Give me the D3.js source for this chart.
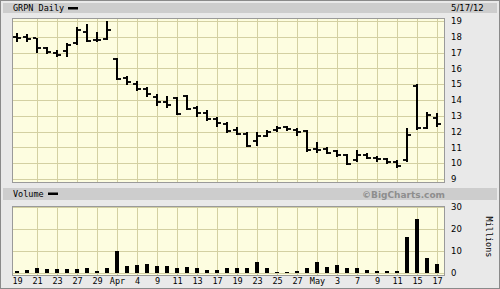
<!DOCTYPE html>
<html>
<head>
<meta charset="utf-8">
<script src="https://cdn.jsdelivr.net/npm/d3@7/dist/d3.min.js"></script>
<style>
  html, body { margin: 0; padding: 0; background: #fff; }
  svg { display: block; }
  .mono { font-family: "DejaVu Sans Mono", monospace; font-size: 8.5px; fill: #000; }
  .num { font-family: "DejaVu Sans", Verdana, sans-serif; font-size: 8.5px; fill: #000; }
</style>
</head>
<body>
<svg id="chart" width="500" height="289"></svg>
<script>
// x axis labels, one every two trading days (Mar 19 .. May 17, 2012)
const xLabels = ["19", "21", "23", "27", "29", "Apr", "4", "9", "11", "13", "17",
  "19", "23", "25", "27", "May", "3", "7", "9", "11", "15", "17"];

// daily OHLC
const open = [18.0, 18.0, 17.95, 17.3, 16.95, 17.1, 17.6, 18.3, 17.8, 17.85,
  16.6, 15.4, 15.0, 14.7, 14.2, 13.9, 14.1, 14.25, 13.5, 13.2,
  12.8, 12.45, 12.1, 11.85, 11.4, 11.75, 12.1, 12.3, 12.1, 12.05,
  10.9, 10.9, 10.75, 10.5, 10.2, 10.55, 10.35, 10.25, 10.05, 10.2,
  14.9, 12.2, 12.85];
const high = [18.25, 18.15, 17.95, 17.35, 17.15, 17.6, 18.6, 18.8, 18.3, 19.0,
  16.65, 15.5, 15.2, 14.85, 14.35, 14.25, 14.2, 14.3, 13.6, 13.35,
  12.95, 12.6, 12.3, 12.0, 11.95, 12.1, 12.35, 12.35, 12.2, 12.1,
  11.35, 11.0, 10.85, 10.6, 10.85, 10.65, 10.45, 10.3, 10.2, 12.2,
  15.0, 13.25, 13.15];
const low = [17.7, 17.7, 17.0, 16.9, 16.7, 16.75, 17.5, 17.7, 17.7, 17.8,
  15.25, 14.95, 14.6, 14.2, 13.6, 13.5, 13.05, 13.35, 12.95, 12.65,
  12.3, 11.9, 11.8, 11.05, 11.1, 11.65, 12.0, 12.05, 11.75, 10.7,
  10.65, 10.6, 10.4, 9.9, 10.1, 10.25, 10.1, 9.95, 9.7, 10.1,
  12.1, 12.15, 12.3];
const close = [17.95, 17.85, 17.3, 17.05, 16.85, 17.45, 18.45, 17.75, 17.8, 18.4,
  15.3, 15.15, 14.7, 14.35, 13.9, 13.7, 13.1, 13.45, 13.2, 12.8,
  12.55, 12.05, 11.85, 11.1, 11.75, 11.95, 12.25, 12.15, 11.95, 10.85,
  10.85, 10.65, 10.55, 9.95, 10.5, 10.35, 10.25, 10.05, 9.8, 11.8,
  12.2, 13.05, 12.5];

// volume in millions
const volume = [0.8, 1.5, 2.4, 2.0, 2.0, 2.0, 2.0, 2.3, 0.8, 2.4,
  9.8, 3.0, 3.5, 4.2, 3.2, 3.2, 2.4, 2.7, 2.1, 1.5,
  1.5, 2.4, 2.1, 2.4, 5.0, 2.4, 0.5, 0.5, 0.9, 2.4,
  5.0, 2.9, 3.5, 2.1, 2.1, 1.2, 0.9, 0.9, 0.9, 16.2,
  24.4, 6.7, 4.1];

const priceTicks = [9, 10, 11, 12, 13, 14, 15, 16, 17, 18, 19];
const volumeTicks = [0, 10, 20, 30];

const data = open.map((o, i) => ({ i: i, o: o, h: high[i], l: low[i], c: close[i], v: volume[i] }));
const labelIdx = xLabels.map((d, k) => k * 2);

const svg = d3.select("#chart");
const W = 500, H = 289;
const left = 12, right = 445;
const pTop = 18, pBottom = 183;
const vTop = 206, vBottom = 276;

const x = d3.scaleLinear().domain([0, data.length - 1]).range([17, 437]);
const y = d3.scaleLinear().domain([9, 19]).range([179, 21]);
const yv = d3.scaleLinear().domain([0, 30]).range([273, 207]);

// fundo geral
svg.append("rect").attr("x", 0.5).attr("y", 0.5).attr("width", W - 1).attr("height", H - 1)
  .attr("fill", "#e9e9e9").attr("stroke", "#8a8a8a");

// barras de titulo
svg.append("rect").attr("x", 3).attr("y", 3).attr("width", 494).attr("height", 10).attr("fill", "#cdcdcd");
svg.append("rect").attr("x", 3).attr("y", 188).attr("width", 494).attr("height", 12).attr("fill", "#cdcdcd");

svg.append("text").attr("class", "mono").attr("x", 13).attr("y", 11).text("GRPN Daily");
svg.append("rect").attr("x", 68).attr("y", 7).attr("width", 10).attr("height", 2.5).attr("fill", "#000");
svg.append("text").attr("class", "num").attr("x", 451).attr("y", 11).text("5/17/12");

svg.append("text").attr("class", "mono").attr("x", 13).attr("y", 197).text("Volume");
svg.append("rect").attr("x", 48).attr("y", 192.5).attr("width", 10).attr("height", 2.5).attr("fill", "#000");
svg.append("text").attr("x", 445).attr("y", 197.5).attr("text-anchor", "end")
  .style("font-family", "'DejaVu Sans', sans-serif").style("font-size", "9px").style("font-weight", "bold")
  .attr("fill", "#8e8e8e").text("©BigCharts.com");

// paineis
function panel(top, bottom, yScale, ticks) {
  const g = svg.append("g").attr("shape-rendering", "crispEdges");
  g.append("rect").attr("x", left).attr("y", top).attr("width", right - left).attr("height", bottom - top)
    .attr("fill", "#fdfde0");
  g.selectAll(".hg").data(ticks).join("line")
    .attr("x1", left).attr("x2", right)
    .attr("y1", d => Math.round(yScale(d)) + 0.5).attr("y2", d => Math.round(yScale(d)) + 0.5)
    .attr("stroke", "#d3d0a2");
  g.selectAll(".vg").data(labelIdx.filter(d => d > 0)).join("line")
    .attr("x1", d => Math.round(x(d)) + 0.5).attr("x2", d => Math.round(x(d)) + 0.5)
    .attr("y1", top).attr("y2", bottom)
    .attr("stroke", "#d3d0a2");
  g.append("rect").attr("x", left + 0.5).attr("y", top + 0.5).attr("width", right - left - 1).attr("height", bottom - top - 1)
    .attr("fill", "none").attr("stroke", "#9a9a9a");
  return g;
}

panel(pTop, pBottom, y, priceTicks);
panel(vTop, vBottom, yv, volumeTicks);

// eixo de precos
const pAxis = svg.append("g").attr("transform", `translate(449, 0)`)
  .call(d3.axisRight(y).tickValues(priceTicks).tickSize(0).tickPadding(2).tickFormat(d3.format("d")));
pAxis.select(".domain").remove();
pAxis.selectAll("text").attr("class", "num").attr("fill", "#000");

// eixo de volume
const vAxis = svg.append("g").attr("transform", `translate(449, 0)`)
  .call(d3.axisRight(yv).tickValues(volumeTicks).tickSize(0).tickPadding(2).tickFormat(d3.format("d")));
vAxis.select(".domain").remove();
vAxis.selectAll("text").attr("class", "num").attr("fill", "#000");

svg.append("text").attr("class", "mono").attr("transform", "translate(486, 237) rotate(90)")
  .attr("text-anchor", "middle").text("Millions");

// eixo x
const xAxis = svg.append("g").attr("transform", `translate(0, ${vBottom})`)
  .call(d3.axisBottom(x).tickValues(labelIdx).tickSize(0).tickPadding(2)
    .tickFormat((d, k) => xLabels[k]));
xAxis.select(".domain").remove();
xAxis.selectAll("text").attr("class", "mono").attr("fill", "#000");

// barras OHLC
const bars = svg.append("g").attr("shape-rendering", "crispEdges");
bars.selectAll(".hl").data(data).join("rect")
  .attr("x", d => Math.round(x(d.i)) - 1).attr("width", 2)
  .attr("y", d => y(d.h)).attr("height", d => y(d.l) - y(d.h))
  .attr("fill", "#000");
bars.selectAll(".op").data(data).join("rect")
  .attr("x", d => Math.round(x(d.i)) - 4).attr("width", 3)
  .attr("y", d => y(d.o) - 1).attr("height", 2)
  .attr("fill", "#111");
bars.selectAll(".cl").data(data).join("rect")
  .attr("x", d => Math.round(x(d.i)) + 1).attr("width", 3)
  .attr("y", d => y(d.c) - 1).attr("height", 2)
  .attr("fill", "#111");

// barras de volume
svg.append("g").attr("shape-rendering", "crispEdges")
  .selectAll("rect").data(data).join("rect")
  .attr("x", d => Math.round(x(d.i)) - 2).attr("width", 4)
  .attr("y", d => yv(d.v)).attr("height", d => yv(0) - yv(d.v))
  .attr("fill", "#000");
</script>
</body>
</html>
